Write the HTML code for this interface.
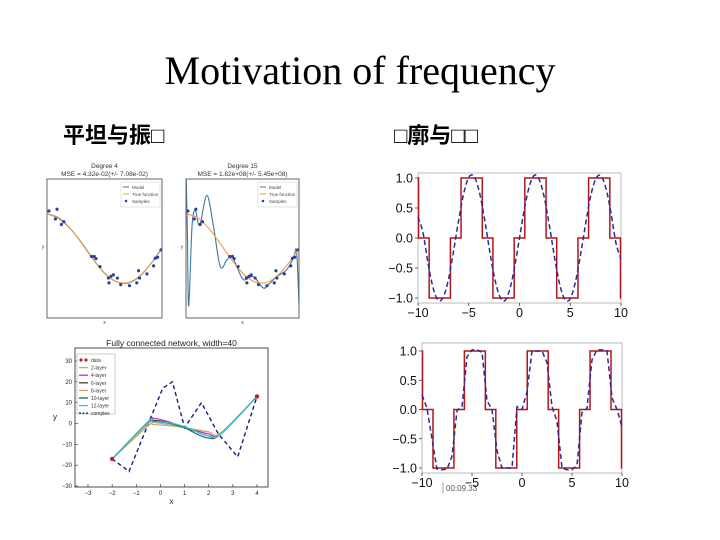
<!DOCTYPE html>
<html><head><meta charset="utf-8"><style>
body{margin:0;background:#fff;}
svg{display:block;font-family:"Liberation Sans","DejaVu Sans",sans-serif;}
</style></head><body>
<svg id="s" width="720" height="540" viewBox="0 0 720 540" xmlns="http://www.w3.org/2000/svg">
<text x="360" y="84" text-anchor="middle" font-family="Liberation Serif, serif" font-size="40">Motivation of frequency</text>
<text x="63" y="143" font-family="Liberation Sans, 'Noto Sans CJK SC', sans-serif" font-weight="bold" font-size="22">平坦与振□</text>
<text x="394" y="143" font-family="Liberation Sans, 'Noto Sans CJK SC', sans-serif" font-weight="bold" font-size="22">□廓与□□</text>
<g id="g"></g>
</svg>
<script>
// ---- data: polynomial fit panels ----
const sampleX=[.017,.087,.073,.125,.146,.388,.411,.426,.461,.534,.557,.577,.539,.612,.641,.717,.781,.796,.805,.869,.927,.942,.962,.991];
const sampleY=[1.08,1.13,.85,.69,.77,-.23,-.23,-.29,-.52,-.85,-.8,-.76,-.99,-.85,-1.04,-1.07,-.99,-.64,-.85,-.73,-.5,-.28,-.25,-.04];
const gridX=[0,.1,.2,.3,.4,.5,.6,.7,.8,.9,1];
const trueY=[1,.891,.588,.156,-.309,-.707,-.951,-.988,-.809,-.454,0];
const deg4Y=[1.0,.87,.58,.17,-.3,-.71,-.95,-1.0,-.82,-.45,.02];
const deg15X=[0,.012,.024,.053,.082,.121,.185,.244,.303,.362,.406,.45,.509,.597,.685,.744,.803,.891,.95,.979,1];
const deg15Y=[2.3,.5,-1.66,.62,1.1,.67,1.53,.62,-.52,-.33,-.23,-.52,-.9,-.81,-1.14,-.99,-.81,-.61,-.28,-.09,-1.66];
// ---- data: fully connected network ----
const dataX=[-2,4], dataY=[-17,13];
const complexX=[-2,-1.3,-.5,.1,.5,1,1.7,2.4,3.2,4];
const complexY=[-17,-23,0,17,20,-2,10,-5,-16,13];
const fitX=[-2,-.5,-.3,.3,1,1.5,2,2.5,4];
const fitSeries=[
 {name:'2-layer',color:'#c9a27e',y:[-17,-1,-.5,-1,-2,-3,-4,-4.5,13]},
 {name:'4-layer',color:'#c030c0',y:[-17,1,2.5,1,-2,-3.5,-5,-5,13]},
 {name:'6-layer',color:'#404040',y:[-17,.5,1.5,.5,-2,-4,-6,-5,13]},
 {name:'8-layer',color:'#b8b070',y:[-17,0,.5,-.5,-2,-3,-4,-4.5,13]},
 {name:'10-layer',color:'#1a6a5a',y:[-17,1,1,.2,-2,-5,-7,-5,13]},
 {name:'12-layer',color:'#30c8d8',y:[-17,1,.8,.5,-1.5,-4,-6,-5,13]}];
const fcXTicks=[-3,-2,-1,0,1,2,3,4], fcYTicks=[-30,-20,-10,0,10,20,30];
// ---- data: square wave panels ----
const stepEdges=[-10,-9.948,-8.901,-6.807,-5.760,-3.665,-2.618,-0.524,0.524,2.618,3.665,5.760,6.807,8.901,9.948,10];
const stepVals=[1,0,-1,0,1,0,-1,0,1,0,-1,0,1,0,-1];
const waveX=[-10,-9.5,-9,-8.5,-8,-7.5,-7,-6.5,-6,-5.5,-5,-4.5,-4,-3.5,-3,-2.5,-2,-1.5,-1,-.5,0,.5,1,1.5,2,2.5,3,3.5,4,4.5,5,5.5,6,6.5,7,7.5,8,8.5,9,9.5,10];
const wave1Y=[.35,.08,-.43,-.84,-1.04,-.98,-.69,-.22,.29,.74,1.01,1.03,.8,.37,-.15,-.63,-.95,-1.05,-.88,-.5,0,.5,.88,1.05,.95,.63,.15,-.37,-.8,-1.03,-1.01,-.74,-.29,.22,.69,.98,1.04,.84,.43,-.08,-.35];
const wave2Y=[.25,.02,-.5,-1.02,-1.03,-1.02,-.8,-.02,.05,.9,1.02,1.02,.98,.15,0,-.7,-1,-1,-1,.05,0,.3,1,1,1,.8,.05,-.2,-1,-1.03,-1.03,-.95,-.05,.02,.85,1.02,1.02,1,.2,0,-.3];
const waveXTicks=[-10,-5,0,5,10], waveYTicks=[-1,-.5,0,.5,1];

const NS='http://www.w3.org/2000/svg';
const G=document.getElementById('g');
function el(t,a,p){const e=document.createElementNS(NS,t);for(const k in a)e.setAttribute(k,a[k]);(p||G).appendChild(e);return e;}
function lin(d0,d1,r0,r1){return v=>r0+(v-d0)*(r1-r0)/(d1-d0);}
function smooth(pts){let d='M'+pts[0][0]+','+pts[0][1];for(let i=0;i<pts.length-1;i++){const p0=pts[i-1]||pts[i],p1=pts[i],p2=pts[i+1],p3=pts[i+2]||p2;
d+=' C'+(p1[0]+(p2[0]-p0[0])/6)+','+(p1[1]+(p2[1]-p0[1])/6)+' '+(p2[0]-(p3[0]-p1[0])/6)+','+(p2[1]-(p3[1]-p1[1])/6)+' '+p2[0]+','+p2[1];}return d;}
function poly(pts){return 'M'+pts.map(p=>p.join(',')).join(' L');}
let cid=0;
function clip(x0,y0,x1,y1){const id='c'+(cid++);const c=el('clipPath',{id});el('rect',{x:x0,y:y0,width:x1-x0,height:y1-y0},c);return 'url(#'+id+')';}

// ---- polynomial panels ----
function polyPanel(x0,x1,y0,y1,title,mse,modelX,modelY,nm){
 const X=lin(0,1,x0,x1),Y=lin(-2,2,y1,y0);
 let t=el('text',{x:(x0+x1)/2,y:y0-11,'text-anchor':'middle','font-size':6.5,fill:'#333'});t.textContent=title;
 
 t=el('text',{x:(x0+x1)/2,y:y0-3,'text-anchor':'middle','font-size':6.5,fill:'#333'});t.textContent=mse;
 
 const cp=clip(x0,y0,x1,y1);
 const g=el('g',{'clip-path':cp});
 
 let p=el('path',{d:smooth(modelX.map((v,i)=>[X(v),Y(modelY[i])])),fill:'none',stroke:'#3a78a8','stroke-width':1.1},g);
 
 p=el('path',{d:smooth(gridX.map((v,i)=>[X(v),Y(trueY[i])])),fill:'none',stroke:'#e8a040','stroke-width':1.1},g);
 
 sampleX.forEach((v,i)=>{const c=el('circle',{cx:X(v),cy:Y(sampleY[i]),r:1.6,fill:'#3040a0'},g);
  });
 const f=el('rect',{x:x0,y:y0,width:x1-x0,height:y1-y0,fill:'none',stroke:'#666','stroke-width':1});
 
 const lg=el('g',{});
 el('rect',{x:x1-41,y:y0+3,width:39,height:25,fill:'#fff',stroke:'#ccc','stroke-width':.5},lg);
 el('line',{x1:x1-39,y1:y0+8,x2:x1-33,y2:y0+8,stroke:'#3a78a8'},lg);
 el('line',{x1:x1-39,y1:y0+15,x2:x1-33,y2:y0+15,stroke:'#e8a040'},lg);
 el('circle',{cx:x1-36,cy:y0+22,r:1.3,fill:'#3040a0'},lg);
 [['Model',10],['True function',17],['Samples',24]].forEach(a=>{const tt=el('text',{x:x1-30,y:y0+a[1],'font-size':4.5,fill:'#444'},lg);tt.textContent=a[0];});
 t=el('text',{x:(x0+x1)/2,y:y1+6,'text-anchor':'middle','font-size':5,fill:'#444'});t.textContent='x';
 
 t=el('text',{x:x0-4,y:(y0+y1)/2,'text-anchor':'middle','font-size':5,fill:'#444'});t.textContent='y';
 
}
polyPanel(47,162,179,318,'Degree 4','MSE = 4.32e-02(+/- 7.08e-02)',gridX,deg4Y,'degree4');
polyPanel(186,299,179,318,'Degree 15','MSE = 1.82e+08(+/- 5.45e+08)',deg15X,deg15Y,'degree15');

// ---- fully connected network ----
(function(){
 const x0=75,x1=268,y0=348,y1=487;
 const X=lin(-3,4,88,257),Y=lin(-30,30,486,361);
 let t=el('text',{x:(x0+x1)/2,y:y0-2,'text-anchor':'middle','font-size':8.5,fill:'#222'});t.textContent='Fully connected network, width=40';
 
 const f=el('rect',{x:x0,y:y0,width:x1-x0,height:y1-y0,fill:'#fff',stroke:'#222','stroke-width':.8});
 
 fcXTicks.forEach(v=>{el('line',{x1:X(v),y1:y1,x2:X(v),y2:y1-3,stroke:'#222','stroke-width':.6});
  const tt=el('text',{x:X(v),y:y1+8,'text-anchor':'middle','font-size':6,fill:'#222'});tt.textContent=v<0?'\u2212'+(-v):v;
  });
 fcYTicks.forEach(v=>{el('line',{x1:x0,y1:Y(v),x2:x0+3,y2:Y(v),stroke:'#222','stroke-width':.6});
  const tt=el('text',{x:x0-3,y:Y(v)+2,'text-anchor':'end','font-size':6,fill:'#222'});tt.textContent=v<0?'\u2212'+(-v):v;
  });
 t=el('text',{x:(x0+x1)/2,y:y1+17,'text-anchor':'middle','font-size':8,fill:'#222'});t.textContent='x';
 
 t=el('text',{x:x0-20,y:(y0+y1)/2+2,'text-anchor':'middle','font-size':8,fill:'#222'});t.textContent='y';
 
 let p=el('path',{d:poly(complexX.map((v,i)=>[X(v),Y(complexY[i])])),fill:'none',stroke:'#1a1a80','stroke-width':1.4,'stroke-dasharray':'4,3'});
 
 fitSeries.forEach(s=>{const q=el('path',{d:smooth(fitX.map((v,i)=>[X(v),Y(s.y[i])])),fill:'none',stroke:s.color,'stroke-width':1.2});
  });
 dataX.forEach((v,i)=>{const c=el('circle',{cx:X(v),cy:Y(dataY[i]),r:2.2,fill:'#c02030'});
  });
 const lg=el('g',{});
 el('rect',{x:x0+2,y:y0+6,width:38,height:60,fill:'#fff',stroke:'#999','stroke-width':.5},lg);
 const items=[['data','#c02030','dot']].concat(fitSeries.map(s=>[s.name,s.color,'line'])).concat([['complex','#1a1a80','dash']]);
 items.forEach((it,i)=>{const yy=y0+12+i*7.6;
  if(it[2]==='dot'){el('circle',{cx:x0+6,cy:yy,r:1.6,fill:it[1]},lg);el('circle',{cx:x0+11,cy:yy,r:1.6,fill:it[1]},lg);}
  else el('line',{x1:x0+4,y1:yy,x2:x0+13,y2:yy,stroke:it[1],'stroke-width':1.3,'stroke-dasharray':it[2]==='dash'?'2,1.5':'none'},lg);
  const tt=el('text',{x:x0+16,y:yy+2,'font-size':5,fill:'#333'},lg);tt.textContent=it[0];});
})();

// ---- square wave panels ----
function wavePanel(x0,x1,yTop,yBot,y1v,ym1v,waveY,nm){
 const X=lin(-10,10,x0,x1),Y=lin(-1,1,ym1v,y1v);
 const f=el('rect',{x:x0,y:yTop,width:x1-x0,height:yBot-yTop,fill:'#fff',stroke:'#aaa','stroke-width':.8});
 
 waveYTicks.forEach(v=>{el('line',{x1:x0-3,y1:Y(v),x2:x0,y2:Y(v),stroke:'#222','stroke-width':.7});
  const tt=el('text',{x:x0-5,y:Y(v)+4.5,'text-anchor':'end','font-size':12.5,fill:'#111'});
  tt.textContent=(v<0?'\u2212':'')+Math.abs(v).toFixed(1);
  });
 waveXTicks.forEach(v=>{el('line',{x1:X(v),y1:yBot,x2:X(v),y2:yBot+3,stroke:'#222','stroke-width':.7});
  const tt=el('text',{x:X(v),y:yBot+14,'text-anchor':'middle','font-size':12.5,fill:'#111'});
  tt.textContent=(v<0?'\u2212':'')+Math.abs(v);
  });
 let pts=[];stepVals.forEach((v,i)=>{pts.push([X(stepEdges[i]),Y(v)]);pts.push([X(stepEdges[i+1]),Y(v)]);});
 let p=el('path',{d:poly(pts),fill:'none',stroke:'#b01818','stroke-width':1.5});
 
 p=el('path',{d:(nm==='wave-top'?smooth:poly)(waveX.map((v,i)=>[X(v),Y(waveY[i])])),fill:'none',stroke:'#2a2a9a','stroke-width':1.5,'stroke-dasharray':'5,3'});
 
}
wavePanel(418,621,173,303,178,298,wave1Y,'wave-top');
wavePanel(422,622,343,473,351,468,wave2Y,'wave-bottom');
let ts=el('text',{x:446,y:491,'font-size':8,fill:'#555'});ts.textContent='00:09.33';

el('line',{x1:443,y1:482,x2:443,y2:494,stroke:'#888','stroke-width':.7});
</script>
</body></html>
